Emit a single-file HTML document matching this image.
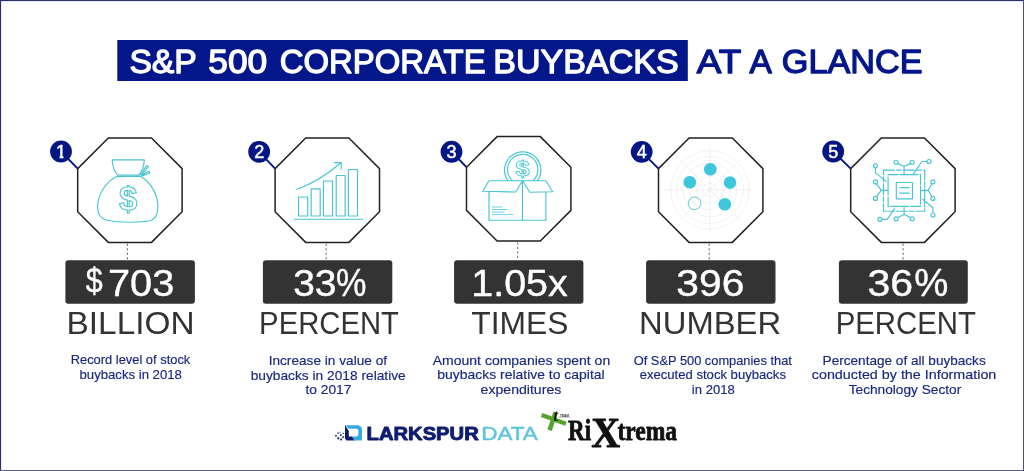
<!DOCTYPE html>
<html lang="en"><head><meta charset="utf-8"><title>S&amp;P 500 Corporate Buybacks at a Glance</title>
<style>
html,body{margin:0;padding:0;background:#fff;}
body{width:1024px;height:471px;overflow:hidden;font-family:"Liberation Sans", sans-serif;}
svg{display:block;}
text{font-family:"Liberation Sans", sans-serif;}
.ic{fill:none;stroke:#48c5d3;stroke-width:1.15;stroke-linecap:round;stroke-linejoin:round;}
</style></head><body>
<svg width="1024" height="471" viewBox="0 0 1024 471">
<defs><clipPath id="c1"><polygon points="50,140 63.4,140 63.4,160 59.6,160 59.6,155.6 50,155.6"/></clipPath></defs>
<rect x="0" y="0" width="1024" height="471" fill="#fff"/>

<rect x="0" y="0" width="1024" height="1.1" fill="#2c2f72"/><rect x="0" y="0" width="1.1" height="471" fill="#2c2f72"/><rect x="1023" y="0" width="1" height="471" fill="#4b4f8d"/><rect x="0" y="470" width="1024" height="1" fill="#555996"/>
<rect x="117.3" y="40" width="570.5" height="41" fill="#03178a"/>
<text id="t0" x="129.39" y="72.6" font-size="33.8" font-weight="normal" fill="#fff" stroke="#fff" stroke-width="1.3" stroke-linejoin="round" textLength="67.47" lengthAdjust="spacingAndGlyphs">S&amp;P</text>
<text id="t1" x="208.35" y="72.6" font-size="33.8" font-weight="normal" fill="#fff" stroke="#fff" stroke-width="1.3" stroke-linejoin="round" textLength="58.91" lengthAdjust="spacingAndGlyphs">500</text>
<text id="t2" x="279.69" y="72.6" font-size="33.8" font-weight="normal" fill="#fff" stroke="#fff" stroke-width="1.3" stroke-linejoin="round" textLength="205.88" lengthAdjust="spacingAndGlyphs">CORPORATE</text>
<text id="t3" x="493.30" y="72.6" font-size="33.8" font-weight="normal" fill="#fff" stroke="#fff" stroke-width="1.3" stroke-linejoin="round" textLength="185.36" lengthAdjust="spacingAndGlyphs">BUYBACKS</text>
<text id="u0" x="696.87" y="72.6" font-size="33.8" font-weight="normal" fill="#03178a" stroke="#03178a" stroke-width="1.3" stroke-linejoin="round" textLength="44.38" lengthAdjust="spacingAndGlyphs">AT</text>
<text id="u1" x="749.40" y="72.6" font-size="33.8" font-weight="normal" fill="#03178a" stroke="#03178a" stroke-width="1.3" stroke-linejoin="round" textLength="22.34" lengthAdjust="spacingAndGlyphs">A</text>
<text id="u2" x="781.83" y="72.6" font-size="33.8" font-weight="normal" fill="#03178a" stroke="#03178a" stroke-width="1.3" stroke-linejoin="round" textLength="140.62" lengthAdjust="spacingAndGlyphs">GLANCE</text>
<line x1="61" y1="151.5" x2="77.7" y2="168.6" stroke="#041684" stroke-width="1.9"/>
<polygon points="108.3,138.0 151.5,138.0 182.1,168.6 182.1,211.8 151.5,242.4 108.3,242.4 77.7,211.8 77.7,168.6" fill="#fff" stroke="#222" stroke-width="1.5"/>
<circle cx="61" cy="151.5" r="10.9" fill="#041684"/>
<text x="61" y="157.7" font-size="18" fill="#fff" stroke="#fff" stroke-width="0.5" text-anchor="middle" clip-path="url(#c1)">1</text>
<line x1="127.4" y1="243.7" x2="127.4" y2="260.3" stroke="#666" stroke-width="1" stroke-dasharray="2.2,2.3"/>
<rect x="65.4" y="260.3" width="129.5" height="43.5" rx="3" fill="#333333"/>
<text id="n0_0" x="85.84" y="293.2" font-size="34.7" font-weight="normal" fill="#fff" stroke="#fff" stroke-width="0.4" stroke-linejoin="round" textLength="16.91" lengthAdjust="spacingAndGlyphs">$</text>
<text id="n0_1" x="108.06" y="295.7" font-size="37" font-weight="normal" fill="#fff" stroke="#fff" stroke-width="0.4" stroke-linejoin="round" textLength="66.22" lengthAdjust="spacingAndGlyphs">703</text>
<text id="l0" x="66.55" y="333.7" font-size="32" font-weight="normal" fill="#333333" textLength="127.99" lengthAdjust="spacingAndGlyphs">BILLION</text>
<text id="d0_0" x="70.69" y="364.2" font-size="13" font-weight="normal" fill="#17277f" stroke="#17277f" stroke-width="0.15" stroke-linejoin="round" textLength="119.58" lengthAdjust="spacingAndGlyphs">Record level of stock</text>
<text id="d0_1" x="79.53" y="378.7" font-size="13" font-weight="normal" fill="#17277f" stroke="#17277f" stroke-width="0.15" stroke-linejoin="round" textLength="102.36" lengthAdjust="spacingAndGlyphs">buybacks in 2018</text>
<line x1="259.15" y1="151.8" x2="275.1" y2="168.6" stroke="#041684" stroke-width="1.9"/>
<polygon points="305.7,138.0 348.9,138.0 379.5,168.6 379.5,211.8 348.9,242.4 305.7,242.4 275.1,211.8 275.1,168.6" fill="#fff" stroke="#222" stroke-width="1.5"/>
<circle cx="259.15" cy="151.8" r="10.9" fill="#041684"/>
<text x="259.15" y="158.0" font-size="18" fill="#fff" stroke="#fff" stroke-width="0.5" text-anchor="middle">2</text>
<line x1="326.2" y1="243.7" x2="326.2" y2="260.3" stroke="#666" stroke-width="1" stroke-dasharray="2.2,2.3"/>
<rect x="262.9" y="260.3" width="129.4" height="43.5" rx="3" fill="#333333"/>
<text id="n1_0" x="293.17" y="295.7" font-size="37" font-weight="normal" fill="#fff" stroke="#fff" stroke-width="0.4" stroke-linejoin="round" textLength="43.38" lengthAdjust="spacingAndGlyphs">33</text>
<text id="n1_1" x="336.11" y="295.7" font-size="38" font-weight="normal" fill="#fff" stroke="#fff" stroke-width="0.4" stroke-linejoin="round" textLength="30.43" lengthAdjust="spacingAndGlyphs">%</text>
<text id="l1" x="259.12" y="333.7" font-size="32" font-weight="normal" fill="#333333" textLength="139.84" lengthAdjust="spacingAndGlyphs">PERCENT</text>
<text id="d1_0" x="268.67" y="365.1" font-size="13" font-weight="normal" fill="#17277f" stroke="#17277f" stroke-width="0.15" stroke-linejoin="round" textLength="118.38" lengthAdjust="spacingAndGlyphs">Increase in value of</text>
<text id="d1_1" x="250.68" y="379.6" font-size="13" font-weight="normal" fill="#17277f" stroke="#17277f" stroke-width="0.15" stroke-linejoin="round" textLength="155.04" lengthAdjust="spacingAndGlyphs">buybacks in 2018 relative</text>
<text id="d1_2" x="305.48" y="394.1" font-size="13" font-weight="normal" fill="#17277f" stroke="#17277f" stroke-width="0.15" stroke-linejoin="round" textLength="45.96" lengthAdjust="spacingAndGlyphs">to 2017</text>
<line x1="451.5" y1="151.75" x2="466.5" y2="167.2" stroke="#041684" stroke-width="1.9"/>
<polygon points="497.1,136.6 540.3,136.6 570.9,167.2 570.9,210.4 540.3,241.0 497.1,241.0 466.5,210.4 466.5,167.2" fill="#fff" stroke="#222" stroke-width="1.5"/>
<circle cx="451.5" cy="151.75" r="10.9" fill="#041684"/>
<text x="451.5" y="157.9" font-size="18" fill="#fff" stroke="#fff" stroke-width="0.5" text-anchor="middle">3</text>
<line x1="517.7" y1="242.3" x2="517.7" y2="260.3" stroke="#666" stroke-width="1" stroke-dasharray="2.2,2.3"/>
<rect x="454.1" y="260.3" width="129.3" height="43.5" rx="3" fill="#333333"/>
<text id="n2_0" x="471.24" y="295.7" font-size="37" font-weight="normal" fill="#fff" stroke="#fff" stroke-width="0.4" stroke-linejoin="round" textLength="96.56" lengthAdjust="spacingAndGlyphs">1.05x</text>
<text id="l2" x="471.26" y="333.7" font-size="32" font-weight="normal" fill="#333333" textLength="97.24" lengthAdjust="spacingAndGlyphs">TIMES</text>
<text id="d2_0" x="432.75" y="364.6" font-size="13" font-weight="normal" fill="#17277f" stroke="#17277f" stroke-width="0.15" stroke-linejoin="round" textLength="177.45" lengthAdjust="spacingAndGlyphs">Amount companies spent on</text>
<text id="d2_1" x="437.36" y="379.1" font-size="13" font-weight="normal" fill="#17277f" stroke="#17277f" stroke-width="0.15" stroke-linejoin="round" textLength="167.24" lengthAdjust="spacingAndGlyphs">buybacks relative to capital</text>
<text id="d2_2" x="480.61" y="393.6" font-size="13" font-weight="normal" fill="#17277f" stroke="#17277f" stroke-width="0.15" stroke-linejoin="round" textLength="80.66" lengthAdjust="spacingAndGlyphs">expenditures</text>
<line x1="641.7" y1="151.85" x2="658.5" y2="168.6" stroke="#041684" stroke-width="1.9"/>
<polygon points="689.1,138.0 732.3,138.0 762.9,168.6 762.9,211.8 732.3,242.4 689.1,242.4 658.5,211.8 658.5,168.6" fill="#fff" stroke="#222" stroke-width="1.5"/>
<circle cx="641.7" cy="151.85" r="10.9" fill="#041684"/>
<text x="641.7" y="158.0" font-size="18" fill="#fff" stroke="#fff" stroke-width="0.5" text-anchor="middle">4</text>
<line x1="709.2" y1="243.7" x2="709.2" y2="260.3" stroke="#666" stroke-width="1" stroke-dasharray="2.2,2.3"/>
<rect x="646.1" y="260.3" width="129.4" height="43.5" rx="3" fill="#333333"/>
<text id="n3_0" x="676.33" y="295.7" font-size="37" font-weight="normal" fill="#fff" stroke="#fff" stroke-width="0.4" stroke-linejoin="round" textLength="67.95" lengthAdjust="spacingAndGlyphs">396</text>
<text id="l3" x="639.12" y="333.7" font-size="32" font-weight="normal" fill="#333333" textLength="142.05" lengthAdjust="spacingAndGlyphs">NUMBER</text>
<text id="d3_0" x="633.75" y="364.5" font-size="13" font-weight="normal" fill="#17277f" stroke="#17277f" stroke-width="0.15" stroke-linejoin="round" textLength="158.15" lengthAdjust="spacingAndGlyphs">Of S&amp;P 500 companies that</text>
<text id="d3_1" x="639.66" y="379.0" font-size="13" font-weight="normal" fill="#17277f" stroke="#17277f" stroke-width="0.15" stroke-linejoin="round" textLength="146.28" lengthAdjust="spacingAndGlyphs">executed stock buybacks</text>
<text id="d3_2" x="691.83" y="393.5" font-size="13" font-weight="normal" fill="#17277f" stroke="#17277f" stroke-width="0.15" stroke-linejoin="round" textLength="42.88" lengthAdjust="spacingAndGlyphs">in 2018</text>
<line x1="833.2" y1="151.5" x2="850.7" y2="168.6" stroke="#041684" stroke-width="1.9"/>
<polygon points="881.3,138.0 924.5,138.0 955.1,168.6 955.1,211.8 924.5,242.4 881.3,242.4 850.7,211.8 850.7,168.6" fill="#fff" stroke="#222" stroke-width="1.5"/>
<circle cx="833.2" cy="151.5" r="10.9" fill="#041684"/>
<text x="833.2" y="157.7" font-size="18" fill="#fff" stroke="#fff" stroke-width="0.5" text-anchor="middle">5</text>
<line x1="903.1" y1="243.7" x2="903.1" y2="260.3" stroke="#666" stroke-width="1" stroke-dasharray="2.2,2.3"/>
<rect x="838.9" y="260.3" width="128.9" height="43.5" rx="3" fill="#333333"/>
<text id="n4_0" x="867.40" y="295.7" font-size="37" font-weight="normal" fill="#fff" stroke="#fff" stroke-width="0.4" stroke-linejoin="round" textLength="45.56" lengthAdjust="spacingAndGlyphs">36</text>
<text id="n4_1" x="914.25" y="295.7" font-size="38" font-weight="normal" fill="#fff" stroke="#fff" stroke-width="0.4" stroke-linejoin="round" textLength="34.07" lengthAdjust="spacingAndGlyphs">%</text>
<text id="l4" x="835.71" y="333.7" font-size="32" font-weight="normal" fill="#333333" textLength="140.21" lengthAdjust="spacingAndGlyphs">PERCENT</text>
<text id="d4_0" x="822.63" y="364.7" font-size="13" font-weight="normal" fill="#17277f" stroke="#17277f" stroke-width="0.15" stroke-linejoin="round" textLength="163.09" lengthAdjust="spacingAndGlyphs">Percentage of all buybacks</text>
<text id="d4_1" x="811.81" y="379.2" font-size="13" font-weight="normal" fill="#17277f" stroke="#17277f" stroke-width="0.15" stroke-linejoin="round" textLength="184.53" lengthAdjust="spacingAndGlyphs">conducted by the Information</text>
<text id="d4_2" x="848.72" y="393.7" font-size="13" font-weight="normal" fill="#17277f" stroke="#17277f" stroke-width="0.15" stroke-linejoin="round" textLength="112.55" lengthAdjust="spacingAndGlyphs">Technology Sector</text>
<g class="ic">
<path d="M112.2,159.8 L144.3,159.8 C144,166 142,171.5 139,175.1 L117.7,175.1 C114.5,171.5 112.5,166 112.2,159.8 Z"/>
<path d="M116.5,176.6 C106,182 97.6,194 97.6,207.5 C97.6,214.5 101,219 107,220.2 C119,222.8 139,222.8 149.5,220.8 C155,219.6 157.9,214.5 157.9,206.5 C157.9,193.5 150,182 140.5,176.3 Z"/>
<path d="M140.6,174.8 L146.6,165.6 L148.3,166.6 L141.6,175.4 L148.8,171.2 Q150.2,172 149.4,173.3 L142.2,176"/>
</g>
<text x="128.2" y="210.3" font-size="33" font-weight="bold" text-anchor="middle" fill="none" stroke="#48c5d3" stroke-width="1.1">$</text>
<g class="ic" stroke-linejoin="miter">
<rect x="298.6" y="197" width="9.1" height="19.0"/>
<rect x="311.2" y="188.9" width="9.0" height="27.1"/>
<rect x="323.5" y="181" width="9.0" height="35.0"/>
<rect x="336.2" y="175.5" width="8.9" height="40.5"/>
<rect x="348.4" y="169.5" width="9.1" height="46.5"/>
<path d="M294.4,219.2 L362.8,219.2"/>
<path d="M296.7,189.5 Q319,181.5 341,162.8 M334.3,162.6 L341.2,162.6 L341.2,169.2"/>
</g>
<g class="ic">
<path d="M507.9,180.6 A18.2,18.2 0 1 1 537.5,180.6"/>
<path d="M512.2,180.6 A15.2,15.2 0 1 1 533.2,180.6"/>
<path d="M489,180.7 L545.9,180.7 L552.7,191.7 L529.8,192.2 L522.5,180.7 L515.7,192 L482.8,191.2 Z"/>
<path d="M489,191.6 L489,220.2 L545.9,220.2 L545.9,192 M522.5,181 L522.5,220.2"/>
<path d="M492.4,207 L501.8,207 M492.4,209.5 L506.9,209.5 M492.4,212.1 L504.3,212.1 M492.4,214.6 L512.8,214.6" stroke-width="0.8"/>
</g>
<text transform="translate(522.7,176.1) scale(1.2,1)" x="0" y="0" font-size="21.3" font-weight="bold" text-anchor="middle" fill="none" stroke="#48c5d3" stroke-width="0.8">$</text>
<g fill="none" stroke="#ededed" stroke-width="0.7">
<circle cx="709.9" cy="189.9" r="2.3"/>
<circle cx="709.9" cy="189.9" r="6.7"/>
<circle cx="709.9" cy="189.9" r="13.4"/>
<circle cx="709.9" cy="189.9" r="20"/>
<circle cx="709.9" cy="189.9" r="26.8"/>
<circle cx="709.9" cy="189.9" r="33.4"/>
<circle cx="709.9" cy="189.9" r="39.2"/>
<path d="M665.9,189.9 L753.9,189.9 M709.9,145.9 L709.9,233.9 M678.9,158.9 L740.9,220.9 M678.9,220.9 L740.9,158.9"/>
</g>
<circle cx="710.3" cy="169.3" r="6.3" fill="#3ec6dc"/>
<circle cx="689.8" cy="182.3" r="6.3" fill="#3ec6dc"/>
<circle cx="730" cy="182.6" r="6.3" fill="#3ec6dc"/>
<circle cx="724.8" cy="204.2" r="6.3" fill="#3ec6dc"/>
<circle cx="694.6" cy="203.3" r="6.3" fill="#fff" stroke="#48c5d3" stroke-width="0.9"/>
<path d="M690.5,199.2 L698.7,207.4" stroke="#e0e0e0" stroke-width="0.7"/>
<g class="ic" stroke-linecap="butt">
<rect x="883.5" y="170.1" width="41.2" height="41.1" stroke-dasharray="11,2,5,2"/>
<rect x="888.1" y="174.6" width="32.4" height="31.8" stroke-dasharray="10,2,18,2"/>
<rect x="896.3" y="182.5" width="16.2" height="16.3"/>
<path d="M899.8,187.6 L909.3,187.6 M899.8,193.1 L909.3,193.1"/>
<path d="M897.6,163.6 L904.1,166.3 L910.7,163.6 M904.1,166.3 L904.1,173.8"/>
<path d="M926.9,161.5 L921.9,161.5 L913.4,173.8"/>
<path d="M875.5,167.9 L875.5,172.9 L886.2,181.4"/>
<path d="M876.5,183.8 L881.3,190.4 L876.5,196.6 M881.3,190.4 L887.5,190.4"/>
<path d="M931.9,183.8 L928.2,190.4 L931.9,196.6 M928.2,190.4 L921.5,190.4"/>
<path d="M932.9,212.9 L932.9,207.7 L922.7,199.3"/>
<path d="M897.8,217.6 L904.1,214.5 L910.5,217.6 M904.1,214.5 L904.1,207.5"/>
<path d="M882,219.3 L887.1,219.3 L894.7,208.6"/>
<circle cx="896.1" cy="162.2" r="2" fill="#fff"/>
<circle cx="912.2" cy="162.2" r="2" fill="#fff"/>
<circle cx="929" cy="161.5" r="2" fill="#fff"/>
<circle cx="875.5" cy="165.8" r="2" fill="#fff"/>
<circle cx="875.5" cy="181.9" r="2" fill="#fff"/>
<circle cx="875.5" cy="198.4" r="2" fill="#fff"/>
<circle cx="932.9" cy="181.9" r="2" fill="#fff"/>
<circle cx="932.9" cy="198.4" r="2" fill="#fff"/>
<circle cx="932.9" cy="215" r="2" fill="#fff"/>
<circle cx="896.1" cy="218.8" r="2" fill="#fff"/>
<circle cx="912.2" cy="218.8" r="2" fill="#fff"/>
<circle cx="879.9" cy="219.3" r="2" fill="#fff"/>
</g>
<g>
<path d="M345,425.2 L357,425.2 Q362,425.2 362,430.2 L362,440.4 L354.5,440.4 L352,436.6 L356.5,436.6 Q358.3,436.6 358.3,434.8 L358.3,430.6 Q358.3,428.8 356.5,428.8 L348.8,428.8 Z" fill="#35a9e1"/>
<path d="M345,425.2 L348.8,431 L348.8,436.6 L352,436.6 L354.5,440.4 L346.5,440.4 L345,438.5 Z" fill="#0e1d6e"/>
<rect x="335.2" y="435" width="1.6" height="1.6" fill="#0e1d6e"/>
<rect x="337.5" y="432.6" width="1.3" height="1.3" fill="#0e1d6e"/>
<rect x="337.3" y="437.3" width="2" height="2" fill="#0e1d6e"/>
<rect x="340" y="434.3" width="1.6" height="1.6" fill="#0e1d6e"/>
<rect x="340.3" y="438.6" width="1.8" height="1.8" fill="#0e1d6e"/>
<rect x="342.3" y="436.3" width="1.6" height="1.6" fill="#0e1d6e"/>
<rect x="342.6" y="432.8" width="1.2" height="1.2" fill="#0e1d6e"/>
<rect x="339.4" y="431.8" width="1.0" height="1.0" fill="#0e1d6e"/>
</g>
<text id="lg0" x="366.63" y="440.2" font-size="18.7" font-weight="bold" fill="#0e1d6e" stroke="#0e1d6e" stroke-width="0.9" stroke-linejoin="round" textLength="112.10" lengthAdjust="spacingAndGlyphs">LARKSPUR</text>
<text id="lg1" x="481.17" y="440.3" font-size="18.6" font-weight="normal" fill="#5cc4dc" stroke="#5cc4dc" stroke-width="0.45" stroke-linejoin="round" textLength="56.61" lengthAdjust="spacingAndGlyphs">DATA</text>
<path d="M541.6,415 L566,423.7" stroke="#55a52c" stroke-width="4.2" fill="none"/>
<path d="M555.6,412.3 L549.6,430.2" stroke="#55a52c" stroke-width="4.5" fill="none"/>
<text x="553.6" y="421.2" font-size="16" font-style="italic" font-weight="bold" fill="#111" style="font-family:'Liberation Serif',serif">t</text>
<text x="560" y="416.5" font-size="2.8" font-weight="bold" fill="#333" textLength="9" lengthAdjust="spacingAndGlyphs">TEAM</text>
<path d="M558.6,417.1 L570.2,417.1" stroke="#555" stroke-width="0.4"/>
<text id="rx0" x="568.11" y="440.4" font-size="28.6" font-weight="bold" fill="#111" stroke="#111" stroke-width="0.8" stroke-linejoin="round" textLength="23.02" lengthAdjust="spacingAndGlyphs" style="font-family:'Liberation Serif',serif">Ri</text>
<text id="rx1" x="591.21" y="447.2" font-size="42.5" font-weight="bold" fill="#111" stroke="#111" stroke-width="0.8" stroke-linejoin="round" textLength="28.97" lengthAdjust="spacingAndGlyphs" style="font-family:'Liberation Serif',serif">X</text>
<text id="rx2" x="617.49" y="440.4" font-size="27.5" font-weight="bold" fill="#111" stroke="#111" stroke-width="0.8" stroke-linejoin="round" textLength="59.62" lengthAdjust="spacingAndGlyphs" style="font-family:'Liberation Serif',serif">trema</text>
</svg></body></html>
